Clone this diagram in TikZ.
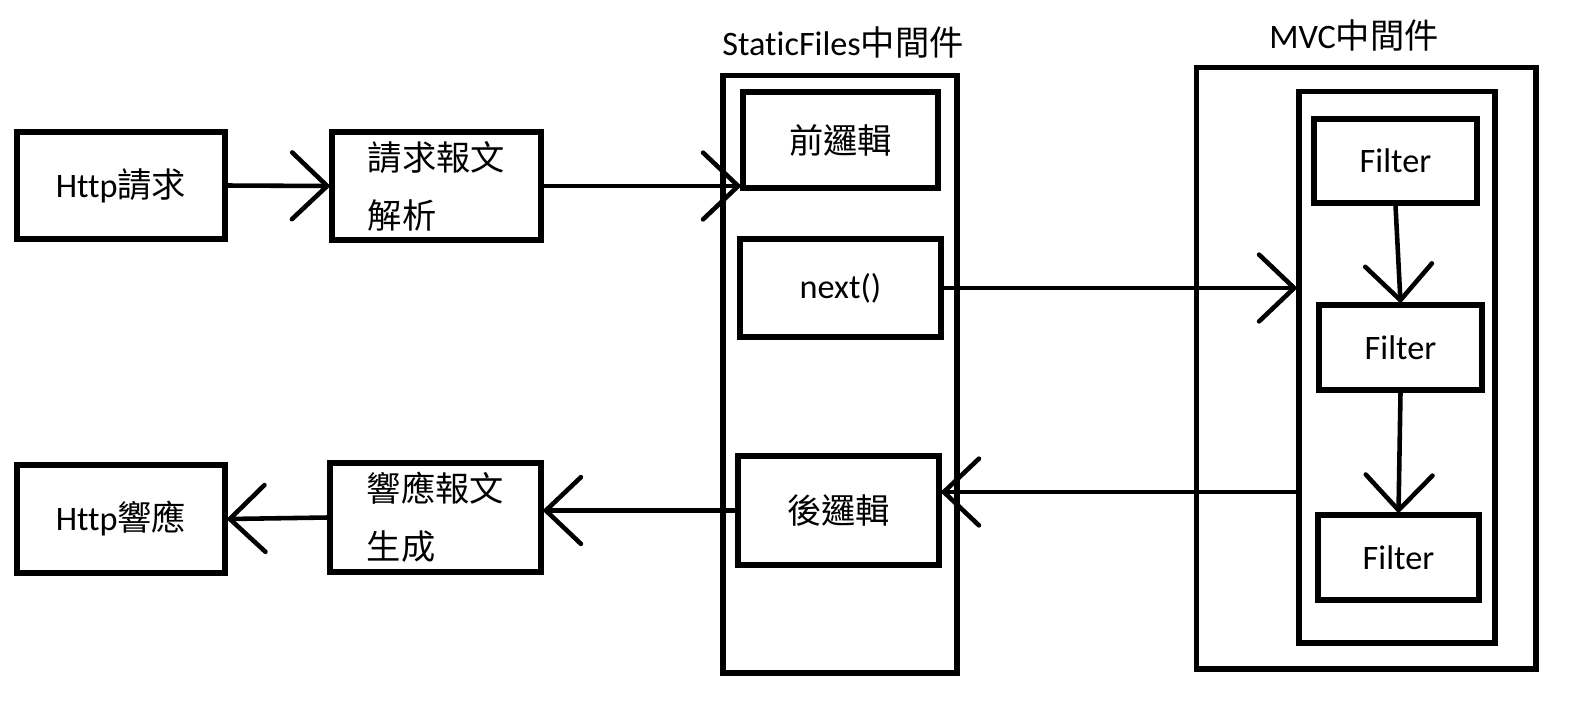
\documentclass[tikz,border=0pt]{standalone}
\usepackage{xcolor}
\usepackage{fontspec}
\setmainfont{Carlito}[Ligatures=NoCommon]
\newfontfamily\zhfont{Noto Sans CJK TC}
\newcommand{\zh}[1]{{\zhfont #1}}
\usetikzlibrary{arrows.meta}
\tikzset{
  box/.style={draw,line width=2.9pt,font=\fontsize{19.5}{33}\selectfont},
  title/.style={font=\fontsize{19.5}{24}\selectfont},
  arr/.style={line width=2.6pt,-{Straight Barb[length=20pt,width=38pt,round]}}
}

\begin{document}
\begin{tikzpicture}[x=0.02cm,y=-0.02cm]
\useasboundingbox (0,0) rectangle (1578,708);
% request side
\draw (121,185.5) node[box,minimum width=4.16cm,minimum height=2.14cm](req) {Http\zh{請求}};
\draw (436.5,186) node[box,minimum width=4.18cm,minimum height=2.16cm,align=left](parse) {\zh{請求報文}\\\zh{解析}};
% response side
\draw (121,519) node[box,minimum width=4.16cm,minimum height=2.16cm](resp) {Http\zh{響應}};
\draw (435.5,517.5) node[box,minimum width=4.22cm,minimum height=2.18cm,align=left](gen) {\zh{響應報文}\\\zh{生成}};
% StaticFiles middleware
\draw (843,42) node[title](sftitle) {StaticFiles\zh{中間件}};
\draw (840,374) node[box,minimum width=4.68cm,minimum height=11.96cm](sf) {};
\draw (840.5,140) node[box,minimum width=3.90cm,minimum height=1.92cm](pre) {\zh{前邏輯}};
\draw (840.5,288) node[box,minimum width=4.02cm,minimum height=1.96cm](next) {next()};
\draw (838.5,510.5) node[box,minimum width=4.02cm,minimum height=2.18cm](post) {\zh{後邏輯}};
% MVC middleware
\draw (1354,35) node[title](mvctitle) {MVC\zh{中間件}};
\draw (1366,368) node[box,minimum width=6.80cm,minimum height=12.04cm](mvc) {};
\draw (1397,367) node[box,minimum width=3.92cm,minimum height=11.04cm](inner) {};
\draw (1395.5,161) node[box,minimum width=3.26cm,minimum height=1.68cm](fone) {Filter};
\draw (1400.5,347.5) node[box,minimum width=3.26cm,minimum height=1.70cm](ftwo) {Filter};
\draw (1398.5,557.5) node[box,minimum width=3.22cm,minimum height=1.70cm](fthree) {Filter};
\coordinate (ret) at (inner.west |- 0,492);
\draw[arr] (req.east) -- (parse.west);
\draw[arr] (parse.east) -- (parse.east -| pre.west);
\draw[arr] (next.east) -- (next.east -| inner.west);
\draw[arr] (fone.south) -- (ftwo.north);
\draw[arr] (ftwo.south) -- (fthree.north);
\draw[arr] (ret) -- (ret -| post.east);
\draw[arr] (post.west) -- (post.west -| gen.east);
\draw[arr] (gen.west) -- (resp.east);
\end{tikzpicture}
\end{document}
